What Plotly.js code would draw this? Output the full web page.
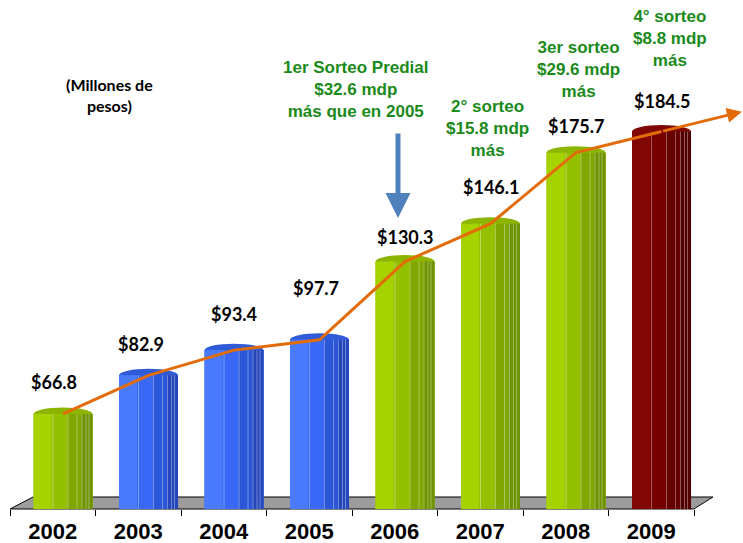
<!DOCTYPE html>
<html>
<head>
<meta charset="utf-8">
<script src="https://cdn.plot.ly/plotly-3.0.1.min.js"></script>
<style>html,body{margin:0;padding:0;background:#fff;}#chart{width:743px;height:543px;}</style>
</head>
<body>
<div id="chart"></div>
<script>
// ---- data ----
const years = ['2002','2003','2004','2005','2006','2007','2008','2009'];
const values = [66.8, 82.9, 93.4, 97.7, 130.3, 146.1, 175.7, 184.5];
const valueLabels = ['$66.8','$82.9','$93.4','$97.7','$130.3','$146.1','$175.7','$184.5'];
const unitNote = '(Millones de<br>pesos)';
const notes = [
  '1er Sorteo Predial<br>$32.6 mdp<br>más que en 2005',
  '2° sorteo<br>$15.8 mdp<br>más',
  '3er sorteo<br>$29.6 mdp<br>más',
  '4° sorteo<br>$8.8 mdp<br>más'
];

// ---- styles ----
const barGroup = ['g','b','b','b','g','g','g','r'];
const pal = {
  g: {left:'#A6D200', mid:'#93C000', right:'#80A600', dark:'#6F9200', cap:'#8BB500'},
  b: {left:'#4A7BFF', mid:'#3868F5', right:'#2C56D8', dark:'#2448BC', cap:'#2F5BD8'},
  r: {left:'#820606', mid:'#760000', right:'#640000', dark:'#540000', cap:'#7E0606'}
};
const labelLift = [32, 31, 36, 52, 25, 37, 27, 31];
const labelDx = [-9, -8, 0, -4, 0, 0, 0, 0];
const SH = 0.12, HW = 0.345;          // bar shift / half width (category units)
const PXU = 85.5;                      // px per category unit
const Y0 = 27.2, Y1 = 239.3;
const capR = 2.7;

const xs = years.map((_, i) => i + SH);
const colorsOf = k => barGroup.map(g => pal[g][k]);
const bold = t => t.split('<br>').map(s => '<b>' + s + '</b>').join('<br>');

function barTrace(offPx, widPx, color) {
  return {
    type: 'bar', x: years, y: values, xaxis: 'x', yaxis: 'y',
    offset: -HW + SH + offPx / PXU, width: widPx / PXU,
    marker: {color: color, line: {width: 0}},
    hoverinfo: 'skip'
  };
}

const traces = [];
traces.push(barTrace(0, 59, colorsOf('mid')));
traces.push(barTrace(0, 18, colorsOf('left')));
traces.push(barTrace(34, 25, colorsOf('right')));
traces.push(barTrace(48, 11, colorsOf('dark')));
[19, 34, 43, 48, 52, 55].forEach(p => {
  traces.push(barTrace(p, 1, 'rgba(255,255,255,0.35)'));
});
traces.push({
  type: 'scatter', mode: 'lines', x: xs, y: values, xaxis: 'x2', yaxis: 'y',
  line: {color: '#E36C0A', width: 3}, hoverinfo: 'skip'
});

const shapes = [];
shapes.push({
  type: 'path', xref: 'paper', yref: 'paper', layer: 'below',
  path: 'M 0,0 L 0.0314,0.0236 L 0.959,0.0236 L 0.933,0 Z',
  fillcolor: '#9C9C9C', line: {color: '#000', width: 1}
});
values.forEach((v, i) => {
  shapes.push({
    type: 'circle', xref: 'x2', yref: 'y', layer: 'below',
    x0: xs[i] - HW, x1: xs[i] + HW, y0: v - capR, y1: v + capR,
    fillcolor: pal[barGroup[i]].cap, line: {width: 0}
  });
});

const annotations = [];
values.forEach((v, i) => {
  annotations.push({
    xref: 'x2', yref: 'y', x: xs[i], y: v, yshift: labelLift[i], xshift: labelDx[i],
    text: bold(valueLabels[i]), showarrow: false,
    font: {family: 'Lato, sans-serif', size: 18, color: '#000'}
  });
});
// trend arrow extension, continuing the last segment
const n = values.length;
const ext = 0.94;
annotations.push({
  xref: 'x2', yref: 'y', axref: 'x2', ayref: 'y',
  x: xs[n - 1] + ext, y: values[n - 1] + ext * (values[n - 1] - values[n - 2]),
  ax: xs[n - 1], ay: values[n - 1],
  text: '', showarrow: true, arrowhead: 2, arrowsize: 1, arrowwidth: 3, arrowcolor: '#E36C0A'
});
// blue arrow
annotations.push({
  xref: 'paper', yref: 'paper', x: 0.5293, y: 0.5717, ax: 0, ay: -86,
  text: '', showarrow: true, arrowhead: 2, arrowsize: 1, arrowwidth: 5, arrowcolor: '#4F81BD'
});
const noteFont = {family: 'Liberation Sans, Arial, sans-serif', size: 17, color: '#1A8A1A'};
const notePos = [[0.4727, 0.8232], [0.6508, 0.7466], [0.7749, 0.8625], [0.9004, 0.9234]];
notes.forEach((t, i) => {
  annotations.push({
    xref: 'paper', yref: 'paper', x: notePos[i][0], y: notePos[i][1],
    xanchor: 'center', yanchor: 'middle', text: bold(t), showarrow: false, font: noteFont
  });
});
annotations.push({
  xref: 'paper', yref: 'paper', x: 0.136, y: 0.8143, xanchor: 'center', yanchor: 'middle',
  text: bold(unitNote), showarrow: false,
  font: {family: 'Lato, sans-serif', size: 16, color: '#000'}
});

const layout = {
  width: 743, height: 543,
  margin: {l: 10, r: 0, t: 0, b: 34, pad: 0},
  paper_bgcolor: '#fff', plot_bgcolor: '#fff',
  showlegend: false, hovermode: false, barmode: 'overlay',
  xaxis: {
    type: 'category', range: [-0.5, -0.5 + 733 / PXU], fixedrange: true,
    showgrid: false, zeroline: false, showline: false,
    ticks: 'outside', tickson: 'boundaries', ticklen: 6, tickwidth: 1, tickcolor: '#000',
    ticklabelstandoff: 7,
    tickfont: {family: 'Liberation Sans, Arial, sans-serif', size: 22, color: '#000', weight: 'bold'}
  },
  xaxis2: {overlaying: 'x', range: [-0.5, -0.5 + 733 / PXU], visible: false, fixedrange: true},
  yaxis: {range: [Y0, Y1], visible: false, fixedrange: true},
  shapes: shapes,
  annotations: annotations
};

Plotly.newPlot('chart', traces, layout, {displayModeBar: false, staticPlot: true});
</script>
</body>
</html>
